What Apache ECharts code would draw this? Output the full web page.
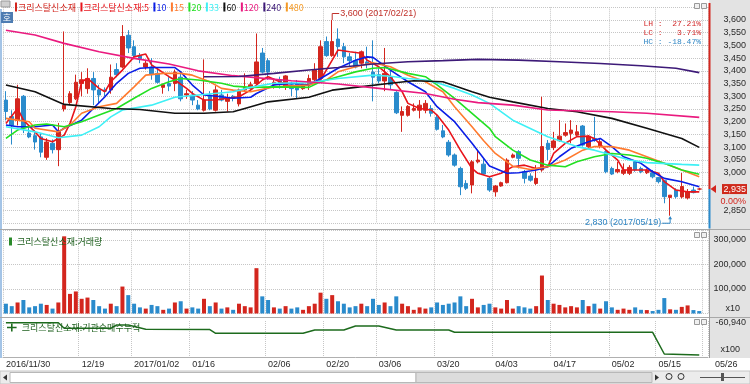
<!DOCTYPE html>
<html><head><meta charset="utf-8">
<script src="https://cdn.jsdelivr.net/npm/echarts/dist/echarts.min.js"></script>
<style>html,body{margin:0;padding:0;background:#fff;}#chart{width:750px;height:384px;}</style>
</head><body><div id="chart"></div>
<script>
// ---------- DATA ----------
// daily candles [open, close, low, high]
const ohlc = [
[3285,3240,3205,3320],[3220,3185,3110,3245],[3205,3290,3185,3345],[3300,3175,3155,3305],[3155,3140,3135,3185],
[3145,3120,3090,3165],[3140,3080,3060,3155],[3060,3120,3050,3135],[3115,3090,3075,3130],[3090,3160,3025,3195],
[3250,3265,3240,3555],[3275,3310,3265,3320],[3290,3355,3285,3385],[3350,3365,3300,3395],[3330,3370,3310,3410],
[3370,3325,3265,3395],[3325,3305,3270,3345],[3325,3320,3300,3335],[3325,3375,3310,3425],[3405,3385,3375,3430],
[3415,3535,3410,3580],[3540,3490,3470,3560],[3495,3460,3445,3520],[3460,3445,3430,3470],[3415,3430,3405,3440],
[3415,3385,3365,3450],[3390,3355,3350,3415],[3335,3345,3310,3350],[3350,3340,3320,3375],[3350,3395,3320,3405],
[3375,3290,3280,3395],[3305,3310,3290,3325],[3305,3285,3265,3320],[3265,3250,3245,3285],[3245,3285,3240,3445],
[3305,3250,3245,3320],[3245,3325,3240,3340],[3305,3285,3280,3325],[3280,3295,3240,3310],[3300,3295,3280,3305],
[3270,3325,3260,3330],[3325,3335,3320,3390],[3330,3345,3325,3357],[3350,3435,3345,3547],[3470,3395,3390,3490],
[3440,3395,3365,3450],[3345,3355,3330,3370],[3365,3350,3330,3377],[3335,3380,3325,3383],[3345,3330,3300,3357],
[3348,3325,3290,3364],[3330,3345,3325,3350],[3345,3370,3325,3385],[3365,3405,3355,3430],[3370,3495,3355,3520],
[3515,3460,3455,3535],[3460,3515,3455,3600],[3525,3495,3455,3567],[3495,3455,3430,3510],[3455,3440,3415,3470],
[3440,3415,3410,3475],[3430,3475,3410,3480],[3435,3425,3410,3495],[3395,3375,3280,3520],[3385,3360,3350,3410],
[3360,3390,3320,3490],[3375,3345,3325,3405],[3315,3235,3230,3320],[3225,3240,3160,3260],[3225,3260,3220,3265],
[3245,3252,3240,3272],[3245,3265,3213,3285],[3245,3272,3233,3285],[3252,3233,3220,3265],[3217,3170,3165,3226],
[3164,3140,3135,3187],[3119,3069,3062,3128],[3069,3029,3023,3075],[3016,2944,2911,3023],[2957,2938,2931,2970],
[2951,3042,2918,3049],[3042,3049,3036,3088],[3033,2994,2990,3056],[2977,2931,2924,2983],[2924,2947,2905,2951],
[2947,2960,2944,2964],[2960,3049,2957,3056],[3060,3069,3056,3075],[3082,3056,3016,3088],[3003,2977,2957,3010],
[2986,2970,2964,2997],[2957,2977,2951,3029],[3010,3102,3003,3298],[3115,3091,3049,3128],[3098,3124,3088,3160],
[3125,3143,3121,3206],[3147,3157,3141,3193],[3154,3167,3115,3206],[3147,3160,3141,3187],[3183,3108,3102,3187],
[3102,3143,3095,3147],[3134,3128,3121,3219],[3102,3121,3095,3134],[3082,3003,2997,3088],[3016,2994,2990,3023],
[3003,3012,2997,3042],[2997,3010,2990,3036],[2997,3020,2990,3029],[3042,3010,3003,3049],[3016,3003,2997,3023],
[2999,3010,2994,3016],[2999,2983,2977,3010],[2980,2964,2957,2983],[2968,2905,2879,2970],[2902,2911,2830,2911],
[2931,2905,2898,2938],[2904,2945,2898,2998],[2900,2924,2894,2935],[2931,2921,2918,2945],[2935,2935,2930,2940]
];
// volume (x10 shares)
const volume = [
40000,30000,45000,55000,25000,30000,40000,35000,20000,45000,
315000,80000,90000,60000,65000,55000,30000,20000,40000,30000,
110000,75000,40000,25000,20000,35000,30000,15000,20000,45000,
50000,20000,25000,20000,60000,30000,45000,20000,25000,15000,
40000,30000,25000,185000,70000,55000,25000,20000,30000,20000,
25000,15000,30000,40000,85000,60000,75000,50000,40000,25000,
30000,40000,30000,60000,35000,45000,30000,70000,40000,30000,
15000,25000,20000,25000,45000,35000,40000,45000,70000,30000,
60000,25000,35000,40000,25000,20000,55000,20000,30000,25000,
20000,30000,155000,55000,40000,35000,25000,30000,25000,55000,
30000,40000,20000,50000,25000,15000,20000,15000,25000,15000,
14000,10000,15000,63000,17000,15000,27000,33000,14000,10000
];
// moving averages: [candle index, price]
const ma5 = [[0,3193],[2,3252],[3,3206],[5,3160],[6,3134],[8,3121],[10,3147],[11,3193],[12,3259],[13,3357],[14,3370],[16,3331],[17,3318],[18,3357],[20,3403],[22,3455],[24,3466],[25,3423],[28,3377],[29,3364],[31,3331],[32,3311],[34,3285],[36,3285],[38,3292],[40,3298],[42,3324],[44,3364],[45,3377],[47,3357],[49,3337],[52,3344],[54,3364],[56,3442],[57,3482],[59,3475],[61,3469],[62,3442],[64,3416],[66,3377],[68,3318],[69,3272],[71,3252],[73,3246],[74,3226],[76,3167],[78,3088],[80,3016],[81,2997],[83,2983],[85,2997],[87,3023],[89,3029],[91,3016],[93,3023],[94,3075],[96,3115],[98,3141],[100,3143],[101,3134],[103,3088],[105,3049],[106,3010],[108,3010],[110,3010],[112,2997],[113,2964],[115,2931],[117,2924],[119,2924]];
const ma10 = [[0,3187],[2,3180],[5,3180],[8,3187],[9,3160],[10,3174],[13,3206],[15,3252],[17,3298],[19,3351],[21,3390],[23,3410],[25,3413],[29,3413],[30,3396],[32,3344],[34,3305],[37,3298],[39,3292],[42,3296],[43,3311],[46,3344],[49,3351],[52,3344],[54,3370],[57,3410],[60,3442],[62,3455],[63,3453],[64,3436],[66,3403],[69,3357],[72,3318],[74,3259],[77,3200],[80,3115],[83,3026],[86,2997],[88,2999],[91,3010],[93,3023],[95,3062],[97,3095],[100,3121],[102,3134],[104,3102],[106,3062],[109,3036],[111,3003],[113,2977],[116,2964],[119,2944]];
const ma15 = [[0,3213],[2,3206],[4,3200],[5,3174],[9,3160],[11,3187],[13,3233],[16,3259],[19,3272],[22,3337],[24,3383],[27,3390],[30,3390],[32,3383],[35,3357],[37,3331],[39,3324],[42,3318],[46,3337],[52,3344],[55,3364],[57,3396],[60,3416],[63,3432],[66,3416],[69,3383],[72,3357],[75,3318],[77,3259],[80,3180],[82,3125],[84,3075],[87,3025],[90,3012],[93,3023],[96,3049],[99,3088],[101,3102],[104,3102],[107,3088],[110,3062],[113,3036],[116,3010],[119,2983]];
const ma20 = [[0,3134],[2,3167],[5,3187],[7,3191],[10,3180],[13,3200],[16,3226],[19,3252],[22,3292],[25,3331],[28,3357],[30,3370],[33,3364],[37,3351],[39,3340],[42,3335],[46,3337],[52,3335],[54,3357],[57,3377],[60,3396],[63,3410],[65,3413],[69,3390],[72,3377],[74,3345],[77,3292],[80,3233],[83,3174],[84,3141],[87,3088],[90,3049],[93,3029],[96,3023],[98,3042],[101,3062],[104,3075],[107,3069],[110,3056],[113,3036],[116,3010],[119,2993]];
const ma33 = [[0,3180],[5,3160],[9,3137],[13,3147],[16,3180],[18,3219],[20,3246],[25,3265],[29,3296],[33,3305],[39,3318],[42,3335],[46,3351],[52,3353],[57,3370],[63,3383],[66,3379],[69,3370],[72,3364],[74,3353],[77,3331],[80,3305],[83,3272],[87,3206],[93,3141],[98,3102],[101,3088],[104,3069],[107,3049],[110,3039],[116,3032],[119,3029]];
const ma60 = [[0,3344],[5,3318],[10,3268],[18,3252],[23,3248],[29,3233],[34,3233],[39,3239],[41,3252],[45,3278],[52,3296],[56,3324],[60,3335],[66,3351],[70,3361],[75,3357],[80,3318],[83,3296],[87,3278],[93,3252],[98,3239],[104,3213],[110,3174],[116,3134],[119,3099]];
const ma120 = [[0,3560],[5,3541],[10,3508],[16,3475],[22,3449],[28,3427],[33,3400],[39,3381],[49,3361],[57,3348],[64,3331],[72,3311],[77,3288],[81,3275],[87,3265],[93,3246],[99,3242],[104,3239],[110,3233],[119,3217]];
const ma240 = [[34,3377],[40,3378],[46,3390],[52,3403],[57,3413],[63,3427],[69,3436],[75,3440],[81,3445],[88,3442],[95,3436],[102,3429],[109,3420],[115,3410],[119,3393]];
const ma480 = [];
// institutional net buying, cumulative (x100): [candle index, value]
const instCum = [[0,-61110],[9,-61110],[10,-61670],[18,-61670],[19,-61340],[21,-61340],[24,-61770],[35,-61800],[36,-62170],[51,-62170],[53,-61840],[58,-61840],[60,-61440],[64,-61440],[67,-61840],[76,-61840],[77,-62070],[111,-62070],[113,-64240],[119,-64340]];
// x axis
const slotCount = 121;
const tickIndex = [0,13,22,32,45,55,64,74,84,94,104,112,120];
const tickLabels = ['2016/11/30','12/19','2017/01/02','01/16','02/06','02/20','03/06','03/20','04/03','04/17','05/02','05/15','05/26'];
const highDate = '2017/02/21', lowDate = '2017/05/19', lastChange = '0.00%';
const stockName = '크리스탈신소재';
const maNames = ['크리스탈신소재:5','10','15','20','33','60','120','240','480'];

// ---------- STYLE ----------
const UP = '#d3261e', DOWN = '#2a8bcc';
const maColors = ['#e8141b','#0a1ee6','#ff7a2e','#22e022','#3ff0f5','#111111','#ea1a7f','#3d1a78','#f59a25'];
const maData = [ma5,ma10,ma15,ma20,ma33,ma60,ma120,ma240,ma480];
const categories = Array.from({length: slotCount}, (_, i) => String(i));
const fmt = v => String(Math.round(v)).replace(/\B(?=(\d{3})+(?!\d))/g, ',');
const lastClose = ohlc[ohlc.length - 1][1];
const tickSet = new Set(tickIndex);
const labelOf = {}; tickIndex.forEach((k, j) => labelOf[k] = tickLabels[j]);
const GRID = '#c6c6c6';
const LBL = {fontSize: 9, color: '#2a2a2a', fontFamily: 'Liberation Sans'};
const KFONT = 'Noto Sans CJK KR';

const chart = echarts.init(document.getElementById('chart'), null, {renderer: 'canvas'});
const option = {
  animation: false,
  backgroundColor: '#ffffff',
  textStyle: {fontFamily: 'Liberation Sans'},
  grid: [
    {left: 3, right: 42, top: 7.29, height: 216.07},
    {left: 3, right: 42, top: 230.2, height: 83.3},
    {left: 3, right: 42, top: 321, height: 36}
  ],
  legend: [
    {left: 4, top: 232, icon: 'rect', itemWidth: 3, itemHeight: 8, selectedMode: false,
     textStyle: {fontSize: 9, fontFamily: KFONT, color: '#1d5f1d'},
     data: [{name: stockName + ':거래량', itemStyle: {color: '#2a8a2a'}}]},
    {left: 2, top: 318, icon: 'path://M0,4h5v-4h2v4h5v2h-5v4h-2v-4h-5z', itemWidth: 10, itemHeight: 8, selectedMode: false,
     textStyle: {fontSize: 9, fontFamily: KFONT, color: '#1d5f1d'},
     data: [{name: stockName + ':기관순매수누적', itemStyle: {color: '#1d6b1d'}}]}
  ],
  xAxis: [0, 1, 2].map(g => ({
    type: 'category', gridIndex: g, data: categories, boundaryGap: true,
    axisLine: {show: g === 2, lineStyle: {color: '#b0b0b0'}},
    axisTick: {show: false},
    axisLabel: g === 2 ? Object.assign({}, LBL, {
      interval: (i) => tickSet.has(i), align: 'left', margin: 3,
      formatter: (v, i) => i === slotCount - 1 ? '{p|' + labelOf[i] + '}' : (labelOf[i] || ''),
      rich: {p: Object.assign({}, LBL, {padding: [0, 0, 0, 10]})}
    }) : {show: false},
    splitLine: {show: true, interval: (i) => tickSet.has(i), lineStyle: {color: GRID, type: 'dotted'}}
  })),
  yAxis: [
    {gridIndex: 0, position: 'right', min: 2800, max: 3650, interval: 50,
     axisLine: {show: false}, axisTick: {show: false},
     axisLabel: Object.assign({}, LBL, {align: 'right', margin: 38,
       formatter: v => (v > 3600 || v < 2850 || Math.abs(v - lastClose) < 40) ? '' : fmt(v)}),
     splitLine: {lineStyle: {color: GRID, type: 'dotted'}}},
    {gridIndex: 1, position: 'right', min: 0, max: 340000, interval: 100000,
     axisLine: {show: false}, axisTick: {show: false},
     axisLabel: Object.assign({}, LBL, {align: 'right', margin: 38,
       formatter: v => v === 0 ? '{u|x10}' : (v > 300000 ? '' : fmt(v)),
       rich: {u: Object.assign({}, LBL, {padding: [0, 6, 9, 0]})}}),
     splitLine: {lineStyle: {color: GRID, type: 'dotted'}}},
    {gridIndex: 2, position: 'right', min: -64540, max: -60940, interval: 3600,
     axisLine: {show: false}, axisTick: {show: false},
     axisLabel: Object.assign({}, LBL, {align: 'right', margin: 38,
       formatter: v => v === -60940 ? '{t|' + fmt(v) + '}' : '{u|x100}',
       rich: {u: Object.assign({}, LBL, {padding: [0, 6, 14, 0]}), t: Object.assign({}, LBL, {padding: [3, 0, 0, 0]})}}),
     splitLine: {show: false}}
  ],
  series: [
    {name: stockName, type: 'candlestick', xAxisIndex: 0, yAxisIndex: 0, data: ohlc, barWidth: 4,
     itemStyle: {color: UP, color0: DOWN, borderColor: UP, borderColor0: DOWN, borderWidth: 1}}
  ].concat(maNames.map((n, k) => ({
    name: n, type: 'line', xAxisIndex: 0, yAxisIndex: 0, data: maData[k], symbol: 'none',
    lineStyle: {width: 1.6, color: maColors[k]}, itemStyle: {color: maColors[k]}
  }))).concat([
    {name: stockName + ':거래량', type: 'bar', xAxisIndex: 1, yAxisIndex: 1, data: volume, barWidth: 4,
     itemStyle: {color: p => ohlc[p.dataIndex][1] > ohlc[p.dataIndex][0] ? UP : DOWN}},
    {name: stockName + ':기관순매수누적', type: 'line', xAxisIndex: 2, yAxisIndex: 2, data: instCum, symbol: 'none',
     lineStyle: {width: 1.5, color: '#1d6b1d'}}
  ])
};
chart.setOption(option);

// ---------- overlays positioned through the chart's scales ----------
let hiIdx = 0, loIdx = 0;
ohlc.forEach((d, i) => { if (d[3] > ohlc[hiIdx][3]) hiIdx = i; if (d[2] < ohlc[loIdx][2]) loIdx = i; });
const H = ohlc[hiIdx][3], L = ohlc[loIdx][2];
const hp = chart.convertToPixel({gridIndex: 0}, [hiIdx, H]);
const lp = chart.convertToPixel({gridIndex: 0}, [loIdx, L]);
const cp = chart.convertToPixel({gridIndex: 0}, [ohlc.length - 1, lastClose]);
const pct = v => (v >= 0 ? ' ' : '') + v.toFixed(2) + '%';
const pad = (s, n) => (' '.repeat(n) + s).slice(-n);
const MONO = {fontSize: 8, fontFamily: 'Liberation Mono'};
const graphic = [
  // panels / frame
  {type: 'rect', z: -5, silent: true, shape: {x: 709, y: 0, width: 41, height: 358}, style: {fill: '#e3e3e3'}},
  {type: 'rect', z: -5, silent: true, shape: {x: 0, y: 9, width: 2, height: 349}, style: {fill: '#a4c4e6'}},
  {type: 'line', z: 5, silent: true, shape: {x1: 0, y1: 229.5, x2: 750, y2: 229.5}, style: {stroke: '#a8a8a8', lineWidth: 1}},
  {type: 'line', z: 5, silent: true, shape: {x1: 0, y1: 317.5, x2: 750, y2: 317.5}, style: {stroke: '#a8a8a8', lineWidth: 1}},
  {type: 'line', z: 5, silent: true, shape: {x1: 709.5, y1: 229, x2: 709.5, y2: 358}, style: {stroke: '#9a9a9a', lineWidth: 1}},
  // scrollbar row
  {type: 'rect', z: 5, silent: true, shape: {x: 0, y: 371, width: 750, height: 13}, style: {fill: '#ececec', stroke: '#c4c4c4'}},
  {type: 'rect', z: 6, silent: true, shape: {x: 10, y: 372.5, width: 406, height: 10}, style: {fill: '#ffffff', stroke: '#b8b8b8'}},
  {type: 'rect', z: 6, silent: true, shape: {x: 416, y: 372.5, width: 236, height: 10}, style: {fill: '#dcdcdc', stroke: '#b8b8b8'}},
  {type: 'polygon', z: 7, silent: true, shape: {points: [[3, 377.5], [7, 374.5], [7, 380.5]]}, style: {fill: '#333'}},
  {type: 'polygon', z: 7, silent: true, shape: {points: [[659, 377.5], [655, 374.5], [655, 380.5]]}, style: {fill: '#333'}},
  {type: 'circle', z: 7, silent: true, shape: {cx: 669, cy: 376.5, r: 3}, style: {fill: 'none', stroke: '#333'}},
  {type: 'circle', z: 7, silent: true, shape: {cx: 681, cy: 376.5, r: 3}, style: {fill: 'none', stroke: '#333'}},
  {type: 'line', z: 7, silent: true, shape: {x1: 700, y1: 377.5, x2: 745, y2: 377.5}, style: {stroke: '#555'}},
  {type: 'rect', z: 7, silent: true, shape: {x: 721, y: 373, width: 3, height: 8}, style: {fill: '#555'}},
  // small window icons
  {type: 'rect', z: 6, silent: true, shape: {x: 1, y: 1, width: 9, height: 6}, style: {fill: '#d0d0d0', stroke: '#999'}},
  {type: 'rect', z: 6, silent: true, shape: {x: 1, y: 12, width: 12, height: 11}, style: {fill: '#4d7cb2'}},
  {type: 'text', z: 7, silent: true, style: {x: 7, y: 17.5, text: '호', fill: '#fff', fontSize: 9, fontFamily: KFONT, align: 'center', verticalAlign: 'middle'}}
];
[3, 232, 319].forEach(y => {
  graphic.push({type: 'rect', z: 6, silent: true, shape: {x: 694.5, y: y + 0.5, width: 5, height: 5}, style: {fill: '#f0f0f0', stroke: '#999'}});
  graphic.push({type: 'rect', z: 6, silent: true, shape: {x: 701.5, y: y + 0.5, width: 5, height: 5}, style: {fill: '#f0f0f0', stroke: '#999'}});
});
// main legend (series names with colour markers)
const mctx = document.createElement('canvas').getContext('2d');
mctx.font = '9px "' + KFONT + '"';
let lx = 15;
[stockName].concat(maNames).forEach((n, k) => {
  const c = k === 0 ? UP : maColors[k - 1];
  graphic.push({type: 'rect', z: 10, silent: true, shape: {x: lx, y: 2.5, width: 2, height: 9}, style: {fill: c}});
  graphic.push({type: 'text', z: 10, silent: true, style: {x: lx + 3, y: 7.5, text: n, fill: c, fontSize: 9, fontFamily: KFONT, verticalAlign: 'middle'}});
  lx += 3 + mctx.measureText(n).width + 4.5;
});
graphic.push(
  // high annotation
  {type: 'polyline', z: 20, silent: true, shape: {points: [[hp[0], hp[1]], [hp[0], hp[1] - 6.5], [hp[0] + 7, hp[1] - 6.5]]}, style: {stroke: '#c0302a', lineWidth: 1}},
  {type: 'text', z: 20, silent: true, style: {x: hp[0] + 8, y: hp[1] - 6.5, text: fmt(H) + ' (' + highDate + ')', fill: '#c0302a', fontSize: 9, fontFamily: 'Liberation Sans', verticalAlign: 'middle'}},
  // low annotation
  {type: 'polyline', z: 20, silent: true, shape: {points: [[lp[0], lp[1] + 1], [lp[0], lp[1] + 7.5], [lp[0] - 8, lp[1] + 7.5]]}, style: {stroke: '#2f86c4', lineWidth: 1}},
  {type: 'polygon', z: 20, silent: true, shape: {points: [[lp[0], lp[1] + 0.5], [lp[0] - 2, lp[1] + 3.5], [lp[0] + 2, lp[1] + 3.5]]}, style: {fill: '#2f86c4'}},
  {type: 'text', z: 20, silent: true, style: {x: lp[0] - 9, y: lp[1] + 6.5, text: fmt(L) + ' (' + lowDate + ')', fill: '#2f86c4', fontSize: 9, fontFamily: 'Liberation Sans', align: 'right', verticalAlign: 'middle'}},
  // LH / LC / HC box
  {type: 'text', z: 20, silent: true, style: Object.assign({x: 701, y: 23.5, text: 'LH : ' + pad(pct((H - L) / L * 100), 7), fill: '#d22a2a', align: 'right', verticalAlign: 'middle'}, MONO)},
  {type: 'text', z: 20, silent: true, style: Object.assign({x: 701, y: 32.5, text: 'LC : ' + pad(pct((lastClose - L) / L * 100), 7), fill: '#d22a2a', align: 'right', verticalAlign: 'middle'}, MONO)},
  {type: 'text', z: 20, silent: true, style: Object.assign({x: 701, y: 41.5, text: 'HC : ' + pad(pct((lastClose - H) / H * 100), 7), fill: '#2f86c4', align: 'right', verticalAlign: 'middle'}, MONO)},
  // current price marker
  {type: 'line', z: 20, silent: true, shape: {x1: 709.5, y1: 3, x2: 709.5, y2: cp[1]}, style: {stroke: '#d3261e', lineWidth: 2}},
  {type: 'line', z: 20, silent: true, shape: {x1: 709.5, y1: cp[1], x2: 709.5, y2: 228.5}, style: {stroke: '#2a8bcc', lineWidth: 2}},
  {type: 'polygon', z: 20, silent: true, shape: {points: [[710.5, cp[1]], [716, cp[1] - 4], [716, cp[1] + 4]]}, style: {fill: '#d3261e'}},
  {type: 'rect', z: 20, silent: true, shape: {x: 722, y: cp[1] - 5, width: 25, height: 10}, style: {fill: '#cf2a1c'}},
  {type: 'text', z: 21, silent: true, style: {x: 746, y: cp[1], text: fmt(lastClose), fill: '#fff', fontSize: 9, fontFamily: 'Liberation Sans', align: 'right', verticalAlign: 'middle'}},
  {type: 'text', z: 21, silent: true, style: {x: 746, y: cp[1] + 12, text: lastChange, fill: '#d3261e', fontSize: 9, fontFamily: 'Liberation Sans', align: 'right', verticalAlign: 'middle'}}
);
chart.setOption({graphic: graphic});
</script></body></html>
